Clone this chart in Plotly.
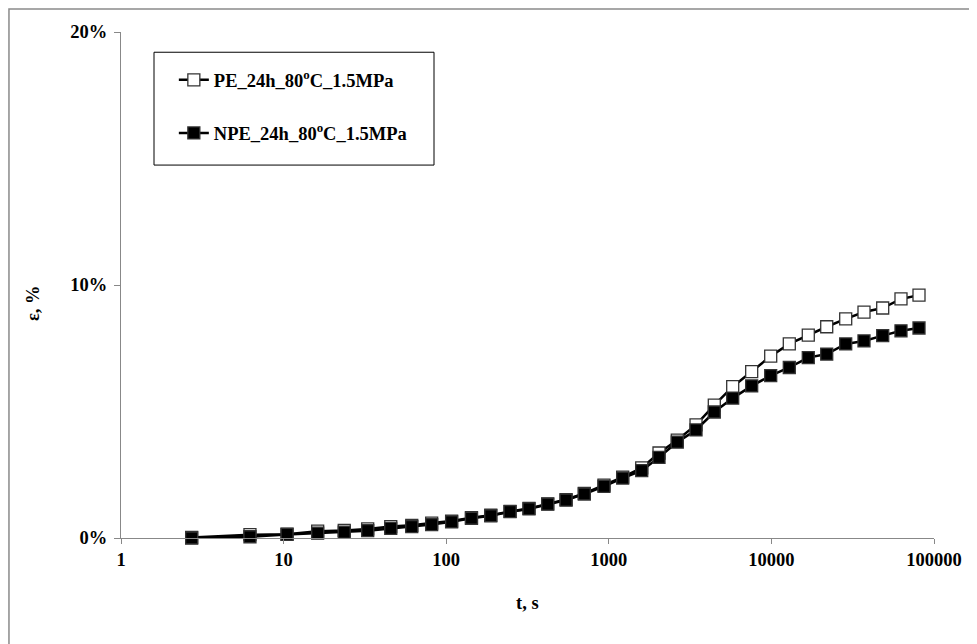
import plotly.graph_objects as go

# time, s
t = [2.72, 6.21, 10.5, 16.2, 23.6, 32.9, 45.6, 61.4, 81.4, 108, 143, 188, 247, 323, 421,
     546, 707, 934, 1217, 1594, 2036, 2638, 3439, 4455, 5781, 7564, 9901, 12885, 16860,
     21885, 28640, 37110, 48360, 62660, 80860]

# strain, %
pe = [0.02, 0.13, 0.15, 0.27, 0.30, 0.36, 0.45, 0.50, 0.59, 0.67, 0.80, 0.90, 1.05, 1.17,
      1.35, 1.52, 1.76, 2.09, 2.41, 2.77, 3.36, 3.87, 4.47, 5.25, 5.98, 6.58, 7.19, 7.67,
      8.02, 8.35, 8.66, 8.93, 9.09, 9.45, 9.60]
npe = [0.00, 0.05, 0.14, 0.19, 0.23, 0.29, 0.38, 0.45, 0.53, 0.64, 0.78, 0.88, 1.04, 1.15,
       1.34, 1.50, 1.74, 2.04, 2.37, 2.66, 3.19, 3.79, 4.27, 4.98, 5.53, 6.01, 6.42, 6.74,
       7.13, 7.27, 7.67, 7.79, 8.00, 8.19, 8.30]

names = ["PE_24h_80<sup>o</sup>C_1.5MPa", "NPE_24h_80<sup>o</sup>C_1.5MPa"]
x_ticks = [1, 10, 100, 1000, 10000, 100000]
x_ticktext = ["1", "10", "100", "1000", "10000", "100000"]
y_ticks = [0, 10, 20]
y_ticktext = ["0%", "10%", "20%"]

FONT = "Liberation Serif"
TICKFONT = dict(family=FONT, size=18.5, color="black", weight="bold")

fig = go.Figure()
fig.add_trace(go.Scatter(
    x=t, y=pe, name="<b>" + names[0] + "</b>", mode="lines+markers", cliponaxis=False,
    line=dict(color="black", width=2.5),
    marker=dict(symbol="square", size=12, color="white", line=dict(color="#333333", width=1.3)),
    legendgroup="a"))
fig.add_trace(go.Scatter(
    x=t, y=npe, name="<b>" + names[1] + "</b>", mode="lines+markers", cliponaxis=False,
    line=dict(color="black", width=2.5),
    marker=dict(symbol="square", size=12, color="black", line=dict(color="#333333", width=1.3)),
    legendgroup="b"))

fig.update_layout(
    width=977, height=644,
    margin=dict(l=113, r=51, t=24, b=114),
    paper_bgcolor="white", plot_bgcolor="white",
    font=dict(family=FONT, size=18.5, color="black"),
    showlegend=True,
    legend=dict(x=0.065, y=0.942, xanchor="left", yanchor="top",
                bgcolor="rgba(0,0,0,0)", borderwidth=0,
                traceorder="grouped", tracegroupgap=26,
                font=dict(family=FONT, size=18.5, color="black"),
                itemwidth=30),
    xaxis=dict(type="log", range=[0, 5], tickvals=x_ticks, ticktext=x_ticktext,
               showgrid=False, zeroline=False, showline=True, linecolor="#888888", linewidth=1.3,
               ticks="outside", ticklen=5, tickcolor="#888888", tickwidth=1.3,
               tickfont=TICKFONT),
    yaxis=dict(range=[0, 20], tickvals=y_ticks, ticktext=y_ticktext,
               showgrid=False, zeroline=False, showline=True, linecolor="#888888", linewidth=1.3,
               ticks="outside", ticklen=6, tickcolor="#888888", tickwidth=1.3,
               ticklabelstandoff=3, tickfont=TICKFONT),
    shapes=[
        dict(type="rect", xref="paper", yref="paper", x0=0.0406, x1=0.385, y0=0.737, y1=0.96,
             line=dict(color="black", width=1), fillcolor="rgba(0,0,0,0)", layer="below"),
        dict(type="rect", xref="paper", yref="paper", x0=-0.1378, x1=1.2, y0=-0.5, y1=1.0455,
             line=dict(color="#8a8a8a", width=1.5), fillcolor="rgba(0,0,0,0)"),
    ],
    annotations=[
        dict(text="<b>t, s</b>", xref="paper", yref="paper", x=0.5, y=-0.128,
             xanchor="center", yanchor="middle", showarrow=False,
             font=dict(family=FONT, size=18.5, color="black")),
        dict(text="<b>ε, %</b>", xref="paper", yref="paper", x=-0.109, y=0.465,
             xanchor="center", yanchor="middle", showarrow=False, textangle=-90,
             font=dict(family=FONT, size=18.5, color="black")),
    ],
)

fig.write_html("out.html")
